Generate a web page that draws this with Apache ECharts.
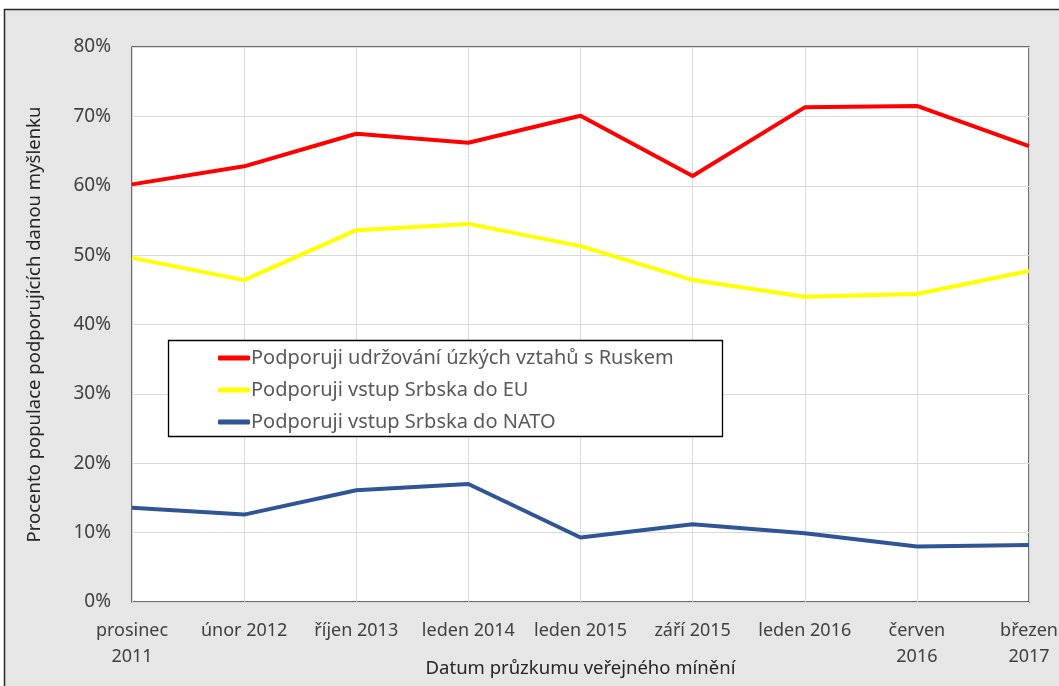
<!DOCTYPE html>
<html><head><meta charset="utf-8">
<script src="https://cdn.jsdelivr.net/npm/echarts@6/dist/echarts.min.js"></script>
<style>html,body{margin:0;padding:0;background:#fff}#c{width:1059px;height:686px}</style>
</head><body><div id="c"></div>
<script>
const categories = ['prosinec\n2011','únor 2012','říjen 2013','leden 2014','leden 2015','září 2015','leden 2016','červen\n2016','březen\n2017'];
const seriesNames = ['Podporuji udržování úzkých vztahů s Ruskem','Podporuji vstup Srbska do EU','Podporuji vstup Srbska do NATO'];
const russia = [60.2, 62.8, 67.5, 66.2, 70.1, 61.4, 71.3, 71.5, 65.7];
const eu = [49.6, 46.4, 53.6, 54.5, 51.3, 46.4, 44.0, 44.4, 47.7];
const nato = [13.6, 12.6, 16.1, 17.0, 9.3, 11.2, 9.9, 8.0, 8.2];
const yTicks = [0, 10, 20, 30, 40, 50, 60, 70, 80];
const colors = ['#ff0000', '#ffff00', '#2f5597'];
const FONT = 'Noto Sans';

const chart = echarts.init(document.getElementById('c'));
chart.setOption({
  animation: false,
  textStyle: {fontFamily: FONT},
  graphic: [
    {type:'rect', z:-10, shape:{x:4.5, y:9.5, width:1100, height:700}, style:{fill:'#e6e6e6', stroke:'#262626', lineWidth:1.5}},
    {type:'rect', z:3, shape:{x:168.5, y:340.5, width:554, height:96}, style:{fill:'#ffffff', stroke:'#000000', lineWidth:1.3}}
  ],
  grid: {left:132, right:30, top:47, bottom:84, outerBoundsMode:'none', containLabel:false, show:true, backgroundColor:'#ffffff', borderColor:'#404040', borderWidth:1.5},
  legend: {
    orient:'vertical', left:218, top:348, itemGap:12, padding:0, z:5,
    itemWidth:32, itemHeight:5, icon:'roundRect',
    textStyle:{fontFamily:FONT, fontSize:20, color:'#595959', padding:[0,0,0,-4]},
    data: seriesNames
  },
  xAxis: {
    type:'category', data:categories, boundaryGap:false,
    name:'Datum průzkumu veřejného mínění', nameLocation:'middle', nameGap:57, nameMoveOverlap:false,
    nameTextStyle:{fontFamily:FONT, fontSize:18.5, color:'#262626'},
    axisLine:{show:false}, axisTick:{show:false},
    axisLabel:{fontFamily:FONT, fontSize:18, color:'#404040', lineHeight:26, margin:16, interval:0},
    splitLine:{show:true, lineStyle:{color:'#d9d9d9', width:1}}
  },
  yAxis: {
    type:'value', min:yTicks[0], max:yTicks[yTicks.length-1], interval:10,
    name:'Procento populace podporujících danou myšlenku', nameLocation:'middle', nameGap:88, nameMoveOverlap:false,
    nameTextStyle:{fontFamily:FONT, fontSize:18.5, color:'#262626'},
    axisLine:{show:false}, axisTick:{show:false},
    axisLabel:{fontFamily:FONT, fontSize:19, color:'#404040', margin:21, formatter: v => v + '%'},
    splitLine:{show:true, lineStyle:{color:'#d9d9d9', width:1}}
  },
  series: [
    {name:seriesNames[0], type:'line', data:russia, symbol:'none', lineStyle:{width:4, color:colors[0]}, itemStyle:{color:colors[0]}},
    {name:seriesNames[1], type:'line', data:eu, symbol:'none', lineStyle:{width:4, color:colors[1]}, itemStyle:{color:colors[1]}},
    {name:seriesNames[2], type:'line', data:nato, symbol:'none', lineStyle:{width:4, color:colors[2]}, itemStyle:{color:colors[2]}}
  ]
});
</script></body></html>
